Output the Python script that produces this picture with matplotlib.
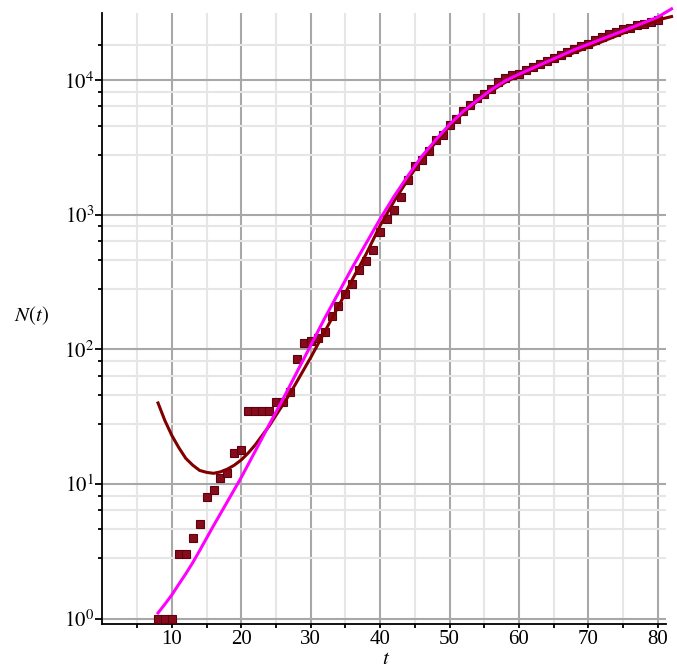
import matplotlib.pyplot as plt
from matplotlib.ticker import FixedLocator, NullFormatter

# observed cumulative counts N(t)
t_obs = list(range(8, 81))
n_obs = [1, 1, 1, 3, 3, 4, 5, 8, 9, 11, 12, 17, 18, 35, 35, 35, 35, 41, 41, 48,
         85, 112, 116, 121, 135, 178, 211, 258, 306, 388, 453, 547, 743, 930,
         1080, 1350, 1830, 2300, 2560, 2980, 3590, 3910, 4640, 5200, 5960, 6530,
         7330, 7980, 8690, 9730, 10420, 10900, 11220, 11880, 12590, 13180, 13940,
         14770, 15370, 16260, 17230, 17990, 18750, 19850, 21000, 22010, 22890,
         23970, 24680, 25650, 26400, 27170, 27990]

# fitted curve 1 (dark red)
t_fit1 = [8, 9, 10, 11, 12, 13, 14, 15, 16, 17, 18, 19, 20, 21, 22, 23, 24, 25,
          26, 27, 28, 30, 32, 34, 36, 38, 40, 42, 44, 46, 48, 50, 52, 54, 56, 58,
          60, 64, 68, 72, 76, 80, 82]
n_fit1 = [40, 29.5, 22.9, 18.6, 15.5, 13.8, 12.6, 12.2, 12.0, 12.3, 12.9, 13.8,
          15.1, 17.0, 19.5, 22.9, 26.9, 32.4, 38.9, 46.8, 57.5, 87, 135, 209, 331,
          513, 832, 1260, 1830, 2600, 3450, 4550, 5750, 7000, 8300, 9650, 10900,
          13400, 16100, 19400, 23500, 28100, 29800]

# fitted curve 2 (magenta)
t_fit2 = [8, 9, 10, 11, 12, 13, 14, 16, 18, 20, 22, 24, 26, 28, 30, 32, 34, 36,
          38, 40, 42, 44, 46, 48, 50, 52, 54, 56, 58, 60, 64, 68, 72, 76, 80, 82]
n_fit2 = [1.1, 1.28, 1.5, 1.8, 2.15, 2.6, 3.2, 4.9, 7.4, 11.2, 17.5, 27.5, 42.7,
          67.6, 107, 170, 263, 407, 617, 933, 1370, 1950, 2720, 3600, 4700, 5900,
          7100, 8500, 9900, 11100, 13700, 16900, 20300, 24400, 29500, 34000]

x_major = [10, 20, 30, 40, 50, 60, 70, 80]
x_minor = [5, 15, 25, 35, 45, 55, 65, 75]
y_major = [1, 10, 100, 1000, 10000]
y_labels = [r'$10^{0}$', r'$10^{1}$', r'$10^{2}$', r'$10^{3}$', r'$10^{4}$']
y_minor = [m * 10 ** d for d in range(4) for m in (2.8, 4.6, 6.4, 8.2)] + [18200]

plt.rcParams['font.family'] = ['Liberation Serif', 'DejaVu Serif']
plt.rcParams['mathtext.fontset'] = 'stix'

fig = plt.figure(figsize=(6.77, 6.72), dpi=100)
ax = fig.add_axes([0.1514, 0.0714, 0.8324, 0.9088])

ax.plot(t_obs, n_obs, 's', ms=6, mfc='#860c1c', mec='#5e0010', mew=0.8, zorder=3)
ax.plot(t_fit1, n_fit1, color='#800000', lw=2.2, zorder=4, clip_on=False)
ax.plot(t_fit2, n_fit2, color='#ff00ff', lw=2.2, zorder=5, clip_on=False)

ax.set_yscale('log')
ax.set_xlim(0, 81.2)
ax.set_ylim(0.91, 31500)

ax.xaxis.set_major_locator(FixedLocator(x_major))
ax.xaxis.set_minor_locator(FixedLocator(x_minor))
ax.yaxis.set_major_locator(FixedLocator(y_major))
ax.yaxis.set_minor_locator(FixedLocator(y_minor))
ax.yaxis.set_minor_formatter(NullFormatter())
ax.set_yticklabels(y_labels)
ax.set_xticklabels([str(v) for v in x_major])

ax.set_axisbelow(True)
ax.grid(which='major', color='#a8a8a8', lw=1.5)
ax.grid(which='minor', color='#e6e6e6', lw=1.5)

for s in ('top', 'right'):
    ax.spines[s].set_visible(False)
for s in ('left', 'bottom'):
    ax.spines[s].set_linewidth(1.3)

ax.tick_params(axis='both', which='both', direction='out', width=1.3, labelsize=15, pad=1)
ax.tick_params(axis='x', which='both', length=3)
ax.tick_params(axis='y', which='major', length=5)
ax.tick_params(axis='y', which='minor', length=3)

fig.text(0.046, 0.53, r'$N(t)$', fontsize=15, ha='center', va='center')
fig.text(0.570, 0.019, r'$t$', fontsize=15, ha='center', va='center')

fig.savefig('out.png', dpi=100)
